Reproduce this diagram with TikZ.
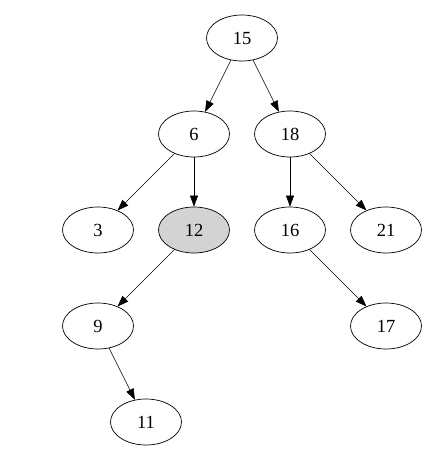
\documentclass[tikz,border=0pt]{standalone}
\usepackage{fontspec}
\setmainfont{Liberation Serif}
\usetikzlibrary{shapes.geometric,arrows.meta}
\definecolor{nodegray}{RGB}{211,211,211}
\begin{document}
\begin{tikzpicture}[x=1pt,y=-1pt,
  treenode/.style={ellipse,draw=black,line width=0.7pt,minimum width=71pt,minimum height=46pt,inner sep=0pt,font=\fontsize{18.5}{20}\selectfont},
  link/.style={draw=black,line width=0.6pt,-{Triangle[length=11pt,width=8pt]}}]
\useasboundingbox (0,0) rectangle (436,460);
\node[treenode] (n15) at (242,38) {15};
\node[treenode] (n6) at (194,134) {6};
\node[treenode] (n18) at (290,134) {18};
\node[treenode] (n3) at (98,230) {3};
\node[treenode,fill=nodegray] (n12) at (194,230) {12};
\node[treenode] (n16) at (290,230) {16};
\node[treenode] (n21) at (386,230) {21};
\node[treenode] (n9) at (98,326) {9};
\node[treenode] (n17) at (386,326) {17};
\node[treenode] (n11) at (146,422) {11};
\draw[link] (n15) -- (n6);
\draw[link] (n15) -- (n18);
\draw[link] (n6) -- (n3);
\draw[link] (n6) -- (n12);
\draw[link] (n18) -- (n16);
\draw[link] (n18) -- (n21);
\draw[link] (n12) -- (n9);
\draw[link] (n16) -- (n17);
\draw[link] (n9) -- (n11);
\end{tikzpicture}
\end{document}
